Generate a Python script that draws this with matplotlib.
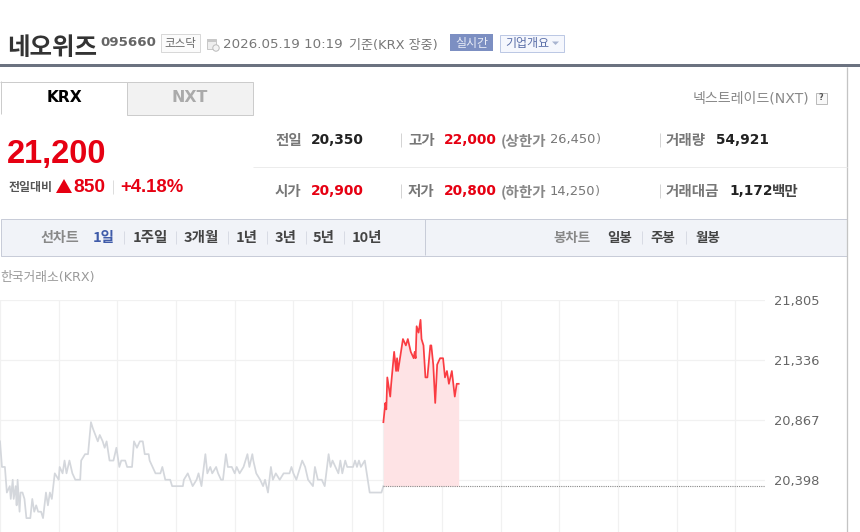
import matplotlib
matplotlib.use('Agg')
import matplotlib.pyplot as plt
from matplotlib.patches import Rectangle, Polygon, Circle

# 전일 시세 (분, 원)
prev_min = [0, 2, 5, 7, 10, 11, 13, 14, 16, 17, 18, 20, 21, 23, 25, 27, 31, 33, 35, 37, 39, 42, 44, 47, 49, 51, 53, 56,
            60, 61, 64, 66, 68, 71, 74, 77, 82, 83, 87, 90, 93, 95, 100, 102, 105, 107, 109, 112, 116, 119, 122, 124,
            128, 130, 135, 137, 140, 143, 146, 148, 152, 153, 156, 159, 164, 166, 169, 174, 176, 187, 188, 192, 197,
            201, 203, 206, 210, 212, 215, 217, 221, 223, 226, 228, 231, 233, 237, 240, 242, 245, 249, 253, 255, 258,
            259, 262, 266, 269, 271, 274, 277, 279, 282, 286, 290, 296, 298, 300, 303, 307, 309, 312, 315, 320, 322,
            325, 329, 332, 336, 338, 340, 343, 346, 348, 350, 353, 355, 361, 363, 365, 367, 369, 373, 376, 378, 390, 392]
prev_price = [20700, 20500, 20500, 20300, 20350, 20250, 20400, 20250, 20350, 20200, 20400, 20150, 20300, 20300, 20250,
              20100, 20100, 20250, 20150, 20200, 20150, 20150, 20100, 20300, 20200, 20300, 20250, 20450,
              20400, 20500, 20450, 20550, 20450, 20550, 20450, 20400, 20400, 20550, 20600, 20600, 20850, 20800,
              20700, 20750, 20700, 20650, 20700, 20550, 20550, 20650, 20500, 20550,
              20550, 20500, 20500, 20700, 20650, 20700, 20700, 20600, 20600, 20550, 20500, 20450, 20450, 20500,
              20400, 20400, 20350, 20350, 20400, 20450, 20350,
              20400, 20450, 20350, 20600, 20450, 20500, 20450, 20500, 20450, 20400, 20400, 20600, 20500, 20500,
              20450, 20500, 20450, 20500, 20600, 20500, 20600,
              20550, 20450, 20400, 20350, 20400, 20300, 20500, 20400, 20450, 20400, 20450, 20450, 20500, 20450,
              20400, 20500, 20550, 20500, 20400, 20350, 20500,
              20400, 20400, 20350, 20600, 20500, 20550, 20500, 20450, 20550, 20450, 20550, 20500, 20500, 20550,
              20500, 20550, 20500, 20550, 20400, 20300, 20300, 20350]

# 당일 시세
today_min = [392, 394, 395, 396, 399, 400, 403, 405, 406, 407, 409, 412, 415, 417, 420, 423, 424, 425, 426, 428, 430,
             431, 433, 435, 437, 440, 441, 443, 445, 447, 450, 453, 455, 457, 459, 462, 465, 467, 469]
today_price = [20850, 21000, 20950, 21200, 21050, 21150, 21400, 21250, 21350, 21250, 21350, 21500, 21450, 21500, 21400,
               21350, 21400, 21350, 21600, 21550, 21650, 21500, 21450, 21200, 21200, 21450, 21450, 21300, 21000, 21300,
               21350, 21350, 21200, 21250, 21150, 21250, 21050, 21150, 21150]

prev_close = 20350
y_ticks = [20398, 20867, 21336, 21805]
x_grid = [0, 60, 120, 180, 240, 300, 360, 392, 452, 512, 572, 632, 692, 752]

line_menu = ['1일', '1주일', '3개월', '1년', '3년', '5년', '10년']
line_menu_x = [93, 133, 184, 236, 275, 313, 352]
candle_menu = ['일봉', '주봉', '월봉']
candle_menu_x = [607, 650, 695]

RED = '#e60012'
LATIN_FIRST = ['DejaVu Sans', 'Noto Sans CJK KR']
CJK_FIRST = ['Noto Sans CJK KR', 'DejaVu Sans']
ARIAL_LIKE = ['Liberation Sans']

fig = plt.figure(figsize=(8.6, 5.32), dpi=100)
page = fig.add_axes([0, 0, 1, 1])
page.set_xlim(0, 860)
page.set_ylim(532, 0)
page.axis('off')


def txt(x, y, s, size, color='#333333', weight='normal', ha='left', family=LATIN_FIRST):
    # size 는 픽셀 기준, 한글 폰트는 1px 위로 뜬다
    if family is CJK_FIRST:
        y += 1
    page.text(x, y, s, fontsize=size * 0.72, color=color, fontweight=weight, ha=ha, va='center', family=family)


def box(x0, y0, x1, y1, fc, ec='none', lw=1.0):
    page.add_patch(Rectangle((x0, y0), x1 - x0, y1 - y0, fc=fc, ec=ec, lw=lw * 0.72))


def hline(y, x0, x1, color, lw=1.0):
    page.plot([x0, x1], [y, y], color=color, lw=lw * 0.72, solid_capstyle='butt')


def vline(x, y0, y1, color, lw=1.0):
    page.plot([x, x], [y0, y1], color=color, lw=lw * 0.72, solid_capstyle='butt')


# 상단 제목줄
txt(7, 47, '네오위즈', 24.5, '#333333', 'bold', family=CJK_FIRST)
txt(100, 42, '095660', 13.4, '#666666', 'bold')
box(160.5, 33.5, 199.5, 51.5, '#fbfbfb', '#d8d8d8')
txt(180, 42, '코스닥', 11.5, '#666666', ha='center', family=CJK_FIRST)
box(207, 39, 216, 49, '#eeeeee', '#c8c8c8')
box(207, 39, 216, 41.5, '#c8c8c8')
page.add_patch(Circle((216, 48), 3.2, fc='#f4f4f4', ec='#bbbbbb', lw=0.7))
txt(223, 45, '2026.05.19 10:19', 13.4, '#777777')
txt(349, 45, '기준(KRX 장중)', 13, '#777777')
box(450, 34, 493, 51, '#7c8fc2')
txt(471.5, 42, '실시간', 12, '#e8ecf6', ha='center', family=CJK_FIRST)
box(500, 34.5, 564, 51.5, '#f5f7fd', '#bcc8e4')
txt(505, 42, '기업개요', 12, '#5a6ea8', family=CJK_FIRST)
page.add_patch(Polygon([[552, 41.5], [559, 41.5], [555.5, 45]], fc='#a8b4d0', ec='none'))
box(0, 64, 860, 67, '#6b7280')

# 거래소 탭
hline(81.5, 0, 127, '#cccccc')
vline(0.5, 81, 114, '#cccccc')
box(127, 81.5, 253, 114.5, '#f2f2f2', '#cccccc')
txt(64, 97, 'KRX', 15.5, '#000000', 'bold', ha='center')
txt(190, 97, 'NXT', 15.7, '#aaaaaa', 'bold', ha='center')
txt(693, 98, '넥스트레이드(NXT)', 14, '#888888')
box(815.5, 92.5, 826.5, 103.5, '#f8f8f8', '#bbbbbb')
txt(821, 98, '?', 8, '#555555', 'bold', ha='center')
vline(847, 67, 532, '#c4c4c4', 1.3)

# 현재가
txt(7, 155, '21,200', 32.6, RED, 'bold', family=ARIAL_LIKE)
txt(9, 187, '전일대비', 12, '#555555', 'bold', family=CJK_FIRST)
page.add_patch(Polygon([[56, 193], [72, 193], [64, 179]], fc=RED, ec='none'))
txt(73, 188, '850', 19.2, RED, 'bold', family=ARIAL_LIKE)
vline(112.5, 180, 194, '#dddddd')
txt(120, 188, '+4.18%', 18.5, RED, 'bold', family=ARIAL_LIKE)

# 시세 표
hline(166.5, 253, 847, '#ececec')
for x in [400.5, 659.5]:
    vline(x, 133, 147, '#d4d4d4')
    vline(x, 184, 198, '#d4d4d4')
LABEL = 14.5
txt(275, 140, '전일', LABEL, '#777777', 'bold', family=CJK_FIRST)
txt(311, 140, '20,350', 13.7, '#222222', 'bold')
txt(408, 140, '고가', LABEL, '#777777', 'bold', family=CJK_FIRST)
txt(444, 140, '22,000', 13.7, RED, 'bold')
txt(501, 140, '(상한가', LABEL, '#888888', 'bold', family=CJK_FIRST)
txt(550, 140, '26,450', 13, '#777777')
txt(596, 140, ')', 13, '#888888')
txt(666, 140, '거래량', LABEL, '#777777', 'bold', family=CJK_FIRST)
txt(716, 140, '54,921', 13.7, '#222222', 'bold')
txt(275, 191, '시가', LABEL, '#777777', 'bold', family=CJK_FIRST)
txt(311, 191, '20,900', 13.7, RED, 'bold')
txt(408, 191, '저가', LABEL, '#777777', 'bold', family=CJK_FIRST)
txt(444, 191, '20,800', 13.7, RED, 'bold')
txt(501, 191, '(하한가', LABEL, '#888888', 'bold', family=CJK_FIRST)
txt(550, 191, '14,250', 13, '#777777')
txt(595, 191, ')', 13, '#888888')
txt(666, 191, '거래대금', LABEL, '#777777', 'bold', family=CJK_FIRST)
txt(729, 191, '1,172', 13.7, '#222222', 'bold')
txt(772, 191, '백만', LABEL, '#444444', 'bold', family=CJK_FIRST)

# 차트 메뉴
box(0.5, 218.5, 847, 255.5, '#f1f3f8', '#c8ccd8')
vline(424.5, 219, 255, '#c8ccd8')
txt(40, 237, '선차트', 14, '#888888', 'bold', family=CJK_FIRST)
for i, (label, x) in enumerate(zip(line_menu, line_menu_x)):
    txt(x, 237, label, 14.5, '#3f5ba9' if i == 0 else '#444444', 'bold', family=CJK_FIRST)
for x in [123.5, 175.5, 227.5, 266.5, 305.5, 343.5]:
    vline(x, 231, 244, '#d8dbe4')
txt(553, 237, '봉차트', 13.5, '#888888', 'bold', family=CJK_FIRST)
for label, x in zip(candle_menu, candle_menu_x):
    txt(x, 237, label, 13.5, '#444444', 'bold', family=CJK_FIRST)
for x in [641.5, 685.5]:
    vline(x, 231, 244, '#d8dbe4')
txt(0, 277, '한국거래소(KRX)', 12.8, '#999999')

# 가격 차트
ax = fig.add_axes([0, 0, 765 / 860, 232.5 / 532])
ax.patch.set_alpha(0)
ax.set_xlim(0, 782.2)
ax.set_ylim(19991.5, 21809)
for s in ax.spines.values():
    s.set_visible(False)
ax.set_xticks(x_grid)
ax.set_yticks(y_ticks)
ax.set_yticklabels([f'{v:,}' for v in y_ticks], fontsize=9.4, color='#666666', family='DejaVu Sans')
ax.set_xticklabels([])
ax.yaxis.tick_right()
ax.tick_params(length=0, axis='both')
ax.tick_params(axis='y', pad=6.5)
ax.grid(True, color='#f1f1f1', lw=0.9)
ax.set_axisbelow(True)

ax.fill_between(today_min, today_price, prev_close, color='#fee3e5', lw=0)
ax.plot(prev_min, prev_price, color='#d4d7dc', lw=1.25)
ax.plot(today_min, today_price, color='#fa3c42', lw=1.25)
ax.plot([392, 782.2], [prev_close, prev_close], color='#888888', lw=0.8, ls=(0, (1, 1)))

fig.savefig('out.png', dpi=100)
